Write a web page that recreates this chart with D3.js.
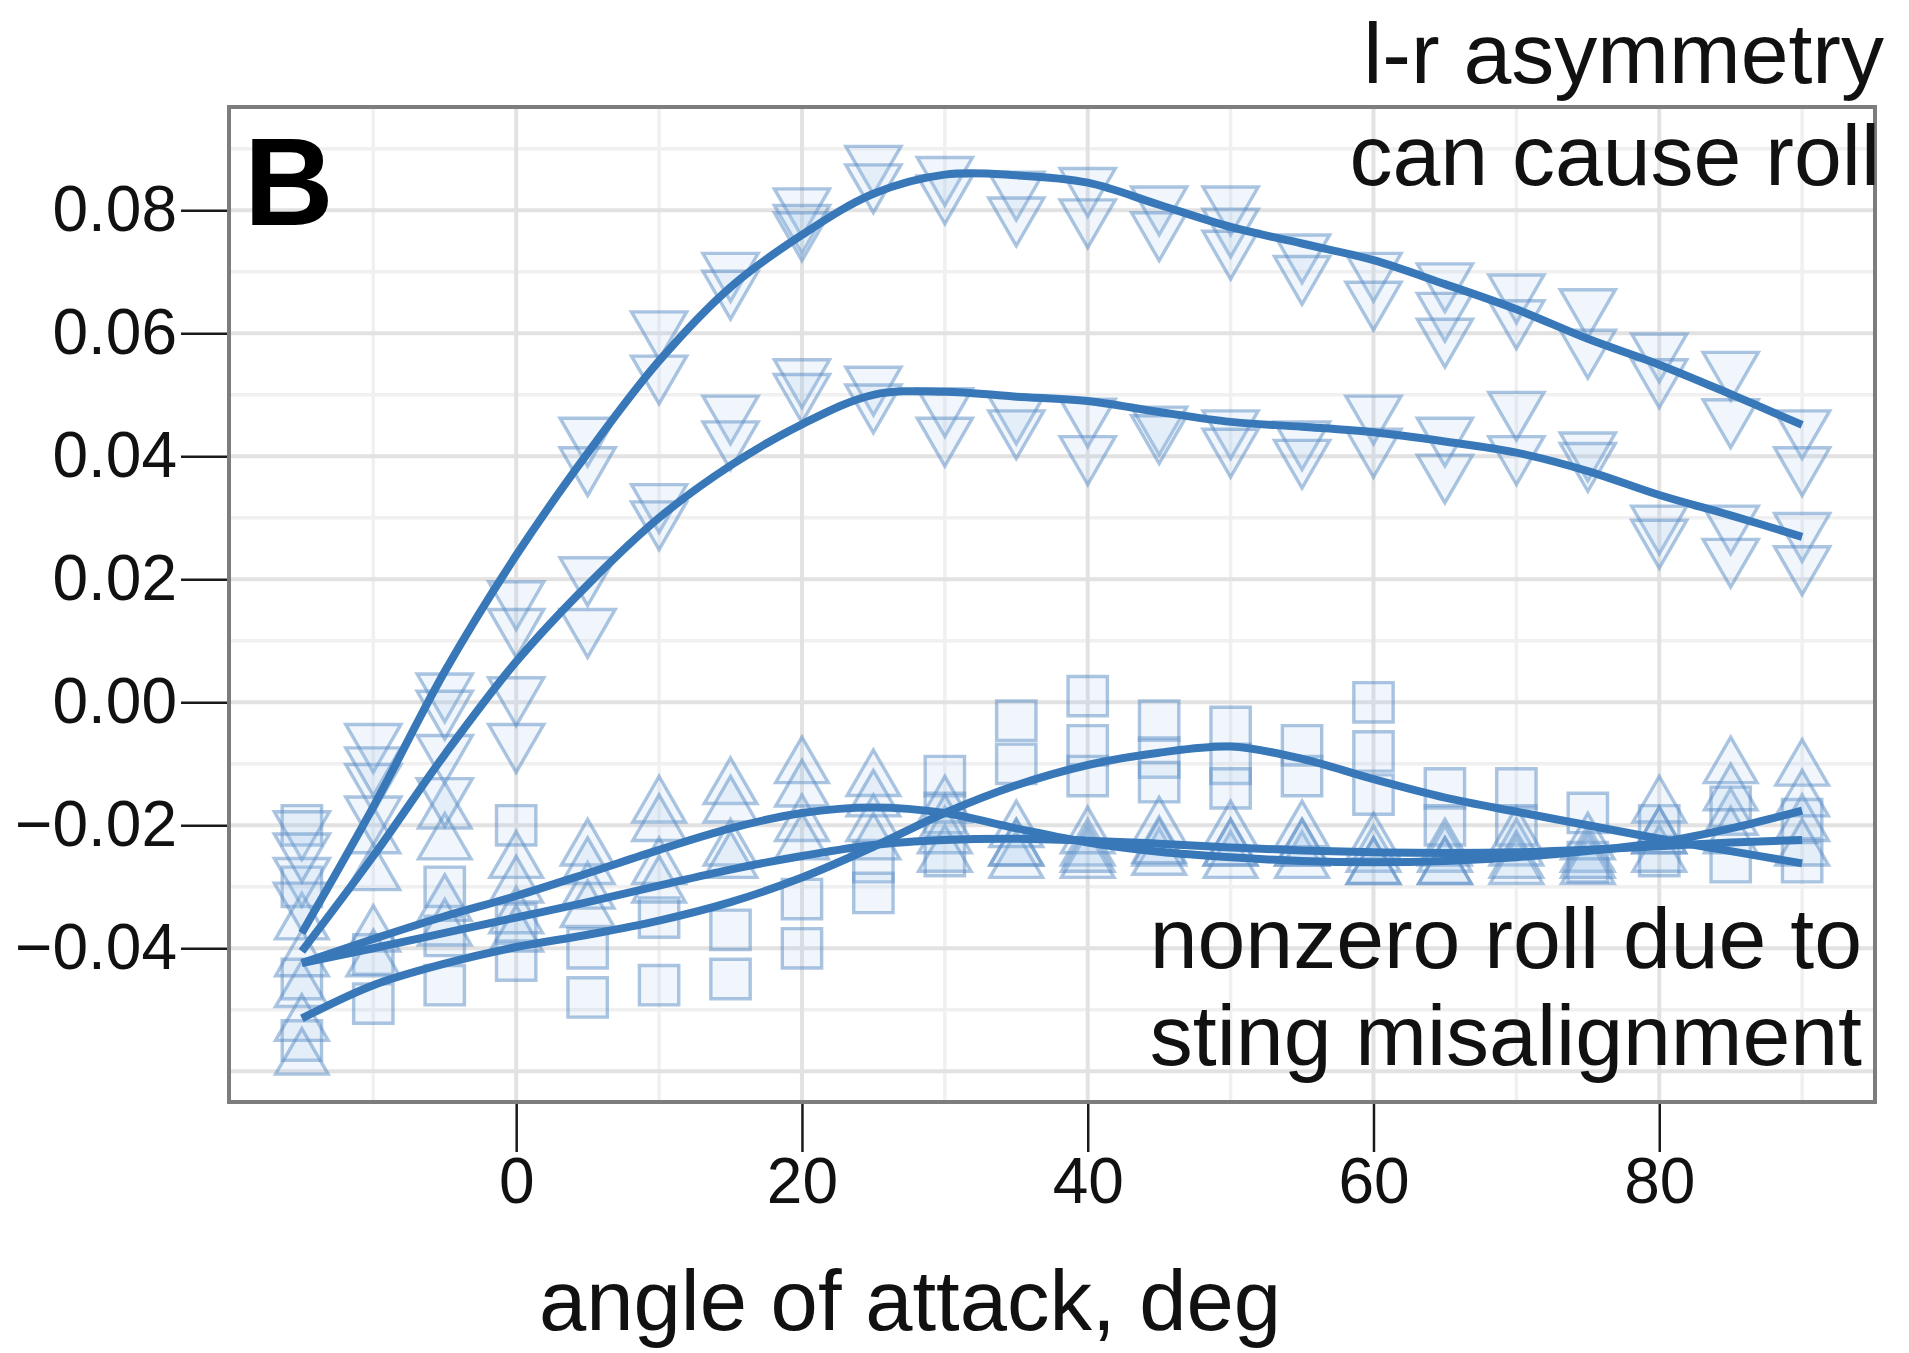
<!DOCTYPE html>
<html>
<head>
<meta charset="utf-8">
<script src="https://cdn.jsdelivr.net/npm/d3@7"></script>
<style>
  html, body { margin: 0; padding: 0; background: #ffffff; }
  svg { display: block; }
</style>
</head>
<body>
<svg id="chart" width="1909" height="1353"></svg>
<script>
// Angles of attack (deg) at which the model was measured
const angles = [-15, -10, -5, 0, 5, 10, 15, 20, 25, 30, 35, 40, 45, 50, 55, 60, 65, 70, 75, 80, 85, 90];

// Smoothed roll-moment fits, one value per angle
const fitUpper  = [-0.0375, -0.0170, 0.0050, 0.0239, 0.0405, 0.0555, 0.0675, 0.0760, 0.0827, 0.0858, 0.0857, 0.0845, 0.0809, 0.0773, 0.0746, 0.0719, 0.0680, 0.0639, 0.0591, 0.0549, 0.0501, 0.0451];
const fitLower  = [-0.0405, -0.0250, -0.0085, 0.0066, 0.0191, 0.0300, 0.0385, 0.0452, 0.0500, 0.0505, 0.0497, 0.0490, 0.0472, 0.0456, 0.0448, 0.0439, 0.0424, 0.0406, 0.0376, 0.0337, 0.0304, 0.0269];
const fitTriA   = [-0.0424, -0.0385, -0.0348, -0.0315, -0.0278, -0.0240, -0.0205, -0.0180, -0.0171, -0.0180, -0.0205, -0.0228, -0.0243, -0.0252, -0.0258, -0.0260, -0.0258, -0.0252, -0.0242, -0.0228, -0.0205, -0.0176];
const fitTriB   = [-0.0424, -0.0400, -0.0375, -0.0350, -0.0325, -0.0298, -0.0272, -0.0250, -0.0232, -0.0224, -0.0222, -0.0225, -0.0230, -0.0236, -0.0241, -0.0244, -0.0245, -0.0244, -0.0240, -0.0234, -0.0228, -0.0224];
const fitSquare = [-0.0514, -0.0460, -0.0425, -0.0398, -0.0378, -0.0355, -0.0325, -0.0285, -0.0235, -0.0180, -0.0135, -0.0102, -0.0082, -0.0072, -0.0092, -0.0125, -0.0155, -0.0178, -0.0200, -0.0222, -0.0242, -0.0262];

// Repeated measurements at each angle (same order as `angles`)
const ptsUpper = [
  [-0.0204, -0.0240], [-0.0062, -0.0100], [0.0020, -0.0008], [0.0170, 0.0125], [0.0436, 0.0388],
  [0.0609, 0.0537], [0.0704, 0.0675], [0.0809, 0.0782, 0.0770], [0.0878, 0.0848], [0.0860, 0.0830],
  [0.0836, 0.0794], [0.0842, 0.0791], [0.0812, 0.0770], [0.0812, 0.0776, 0.0740], [0.0734, 0.0699],
  [0.0704, 0.0657], [0.0687, 0.0639, 0.0597], [0.0669, 0.0627], [0.0645, 0.0579], [0.0573, 0.0531],
  [0.0543, 0.0466], [0.0448, 0.0388]
];
const ptsLower = [
  [-0.0280, -0.0320], [-0.0127, -0.0180], [-0.0080, -0.0150], [0.0014, -0.0062], [0.0209, 0.0125],
  [0.0328, 0.0300], [0.0472, 0.0430], [0.0531, 0.0507], [0.0519, 0.0490], [0.0484, 0.0436],
  [0.0472, 0.0448], [0.0467, 0.0406], [0.0454, 0.0440], [0.0448, 0.0418], [0.0430, 0.0400],
  [0.0472, 0.0418], [0.0436, 0.0376], [0.0478, 0.0406], [0.0412, 0.0395], [0.0293, 0.0270],
  [0.0293, 0.0239], [0.0281, 0.0227]
];
const ptsTriA = [
  [-0.0360, -0.0420], [-0.0220, -0.0280], [-0.0180, -0.0230], [-0.0260, -0.0300], [-0.0240, -0.0270],
  [-0.0170, -0.0200], [-0.0140, -0.0170], [-0.0106, -0.0144], [-0.0127, -0.0160], [-0.0170, -0.0200],
  [-0.0210, -0.0240], [-0.0220, -0.0250], [-0.0204, -0.0236], [-0.0210, -0.0240], [-0.0210, -0.0240],
  [-0.0230, -0.0270], [-0.0240, -0.0270], [-0.0220, -0.0260], [-0.0230, -0.0260], [-0.0170, -0.0220],
  [-0.0106, -0.0150], [-0.0110, -0.0160]
];
const ptsTriB = [
  [-0.0470, -0.0525, -0.0580], [-0.0380, -0.0420], [-0.0330, -0.0370], [-0.0350, -0.0380], [-0.0310, -0.0340],
  [-0.0270, -0.0300], [-0.0240, -0.0260], [-0.0200, -0.0230], [-0.0200, -0.0230], [-0.0220, -0.0250],
  [-0.0240, -0.0260], [-0.0240, -0.0260], [-0.0240, -0.0255], [-0.0240, -0.0260], [-0.0240, -0.0260],
  [-0.0250, -0.0270], [-0.0250, -0.0270], [-0.0240, -0.0270], [-0.0250, -0.0270], [-0.0220, -0.0250],
  [-0.0190, -0.0220], [-0.0200, -0.0240]
];
const ptsSquare = [
  [-0.0200, -0.0300, -0.0450, -0.0550], [-0.0410, -0.0490], [-0.0300, -0.0380, -0.0460], [-0.0200, -0.0360, -0.0420], [-0.0400, -0.0480],
  [-0.0350, -0.0460], [-0.0370, -0.0450], [-0.0320, -0.0400], [-0.0260, -0.0310], [-0.0120, -0.0180, -0.0250],
  [-0.0030, -0.0100], [0.0010, -0.0070, -0.0120], [-0.0030, -0.0090, -0.0130], [-0.0040, -0.0100, -0.0140], [-0.0070, -0.0120],
  [0.0000, -0.0080, -0.0150], [-0.0140, -0.0200], [-0.0140, -0.0200], [-0.0180, -0.0260], [-0.0200, -0.0250],
  [-0.0170, -0.0260], [-0.0190, -0.0260]
];

// Axis tick values
const xTicks = [0, 20, 40, 60, 80];
const yTicks = [-0.04, -0.02, 0.00, 0.02, 0.04, 0.06, 0.08];
const xGridMinor = [-10, 10, 30, 50, 70, 90];
const yGridMinor = [-0.05, -0.03, -0.01, 0.01, 0.03, 0.05, 0.07, 0.09];
const yGridMajor = [-0.06, -0.04, -0.02, 0.00, 0.02, 0.04, 0.06, 0.08];

const panel = { left: 229, top: 107, right: 1875, bottom: 1102 };
const FONT = "'Liberation Sans', Arial, Helvetica, sans-serif";
const lineColor = "#3878b8";
const markColor = "#5a8cc4";

const svg = d3.select("#chart");

const x = d3.scaleLinear().domain([-20.1, 95.1]).range([panel.left, panel.right]);
const y = d3.scaleLinear().domain([-0.0650, 0.0968]).range([panel.bottom, panel.top]);

// Panel background
svg.append("rect")
  .attr("x", panel.left).attr("y", panel.top)
  .attr("width", panel.right - panel.left).attr("height", panel.bottom - panel.top)
  .attr("fill", "#ffffff");

// Grid lines
const grid = svg.append("g");
grid.selectAll("line.vminor").data(xGridMinor).join("line")
  .attr("x1", d => x(d)).attr("x2", d => x(d))
  .attr("y1", panel.top).attr("y2", panel.bottom)
  .attr("stroke", "#f0f0f0").attr("stroke-width", 3.5);
grid.selectAll("line.hminor").data(yGridMinor).join("line")
  .attr("x1", panel.left).attr("x2", panel.right)
  .attr("y1", d => y(d)).attr("y2", d => y(d))
  .attr("stroke", "#f0f0f0").attr("stroke-width", 3.5);
grid.selectAll("line.vmajor").data(xTicks).join("line")
  .attr("x1", d => x(d)).attr("x2", d => x(d))
  .attr("y1", panel.top).attr("y2", panel.bottom)
  .attr("stroke", "#e2e2e2").attr("stroke-width", 4);
grid.selectAll("line.hmajor").data(yGridMajor).join("line")
  .attr("x1", panel.left).attr("x2", panel.right)
  .attr("y1", d => y(d)).attr("y2", d => y(d))
  .attr("stroke", "#e2e2e2").attr("stroke-width", 4);

// Markers: replicate measurements
const triDown = d3.symbol().type(d3.symbolTriangle).size(1320);
const triUp = d3.symbol().type(d3.symbolTriangle).size(1200);
const square = d3.symbol().type(d3.symbolSquare).size(1550);

function flatten(pts) {
  const out = [];
  pts.forEach((vals, i) => vals.forEach(v => out.push({ a: angles[i], v })));
  return out;
}

const marks = svg.append("g");
function drawMarks(pts, gen, rotate) {
  marks.append("g").selectAll("path").data(flatten(pts)).join("path")
    .attr("d", gen)
    .attr("transform", d => `translate(${x(d.a)},${y(d.v)})` + (rotate ? " rotate(180)" : ""))
    .attr("fill", "#a3c9ee").attr("fill-opacity", 0.16)
    .attr("stroke", markColor).attr("stroke-opacity", 0.5)
    .attr("stroke-width", 3.4).attr("stroke-linejoin", "miter");
}
drawMarks(ptsSquare, square, false);
drawMarks(ptsTriB, triUp, false);
drawMarks(ptsTriA, triUp, false);
drawMarks(ptsLower, triDown, true);
drawMarks(ptsUpper, triDown, true);

// Smoothed fits
const line = d3.line()
  .x((d, i) => x(angles[i]))
  .y(d => y(d))
  .curve(d3.curveCatmullRom.alpha(0.5));

const fits = [fitSquare, fitTriB, fitTriA, fitLower, fitUpper];
svg.append("g").selectAll("path").data(fits).join("path")
  .attr("d", line)
  .attr("fill", "none")
  .attr("stroke", lineColor)
  .attr("stroke-width", 8)
  .attr("stroke-linecap", "butt")
  .attr("stroke-linejoin", "round");

// Panel border
svg.append("rect")
  .attr("x", panel.left).attr("y", panel.top)
  .attr("width", panel.right - panel.left).attr("height", panel.bottom - panel.top)
  .attr("fill", "none").attr("stroke", "#7d7d7d").attr("stroke-width", 4);

// Axes
const yAxis = svg.append("g")
  .attr("transform", `translate(${panel.left - 2},0)`)
  .call(d3.axisLeft(y).tickValues(yTicks).tickFormat(d3.format(".2f")).tickSize(46).tickPadding(4));
const xAxis = svg.append("g")
  .attr("transform", `translate(0,${panel.bottom + 2})`)
  .call(d3.axisBottom(x).tickValues(xTicks).tickFormat(d3.format("d")).tickSize(48).tickPadding(6));

[yAxis, xAxis].forEach(g => {
  g.select(".domain").remove();
  g.selectAll(".tick line").attr("stroke", "#1a1a1a").attr("stroke-width", 2.5);
  g.selectAll(".tick text")
    .attr("fill", "#111")
    .style("font-family", FONT)
    .style("font-size", "64px");
});

// Axis title
svg.append("text")
  .attr("x", 910).attr("y", 1330)
  .attr("text-anchor", "middle")
  .style("font-family", FONT).style("font-size", "85px").attr("fill", "#111")
  .text("angle of attack, deg");

// Panel tag
svg.append("text")
  .attr("x", 244).attr("y", 225)
  .style("font-family", FONT).style("font-size", "124px").style("font-weight", "bold")
  .attr("fill", "#000")
  .text("B");

// Annotations
const notes = [
  { text: "l-r asymmetry", x: 1884, y: 83 },
  { text: "can cause roll", x: 1880, y: 185 },
  { text: "nonzero roll due to", x: 1862, y: 968 },
  { text: "sting misalignment", x: 1862, y: 1065 }
];
svg.append("g").selectAll("text").data(notes).join("text")
  .attr("x", d => d.x).attr("y", d => d.y)
  .attr("text-anchor", "end")
  .style("font-family", FONT).style("font-size", "86px")
  .attr("fill", "#111")
  .text(d => d.text);
</script>
</body>
</html>
